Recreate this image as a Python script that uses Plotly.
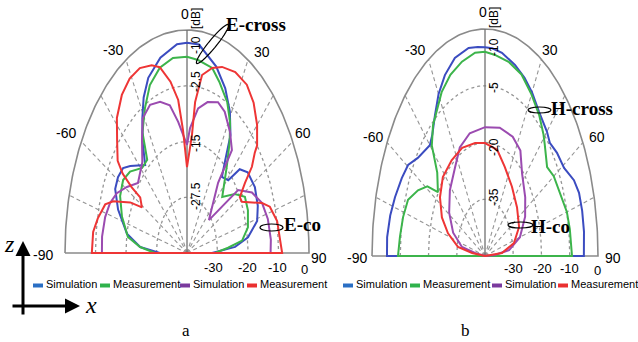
import numpy as np
import plotly.graph_objects as go

W, H = 638, 342
DB_MIN, DB_MAX = -40.0, 0.0
GRID_DB = [-30, -20, -10]
SPOKES = [-75, -60, -45, -30, 30, 45, 60, 75]

angle_labels = ["-90", "-60", "-30", "0", "30", "60", "90"]
radial_labels = ["-30", "-20", "-10", "0"]
a_axis_texts = ["[dB]", "-10", "-2.5", "-15", "-27.5"]
b_axis_texts = ["[dB]", "-10", "-5", "-20", "-35"]
legend_names = ["Simulation", "Measurement", "Simulation", "Measurement"]
legend_colors = ["#2a6fc4", "#2fb24c", "#7a3a9e", "#ea3030"]
curve_colors = ["#3b4cc0", "#3cb44b", "#9b4bb0", "#ee3535"]

# ---- Panel a (E-plane) ----
a_blue_deg = [-90, -86, -80, -71, -64, -59, -54, -50, -41, -36, -31, -27, -22, -14, -5, 0, 6, 16, 23, 29,
              34, 37, 40, 46, 49, 54, 62, 70, 76, 82, 86, 90]
a_blue_db = [-31.1, -24.6, -20.0, -16.1, -13.8, -13.6, -14.1, -15.7, -19.1, -15.2, -11.6, -8.7, -6.1, -3.9,
             -2.4, -2.3, -2.4, -5.2, -7.9, -11.0, -14.5, -19.2, -22.2, -21.2, -17.1, -15.4, -14.8, -15.3,
             -16.3, -19.8, -24.2, -31.8]
a_green_deg = [-90, -86, -81.5, -73, -65, -58, -52, -44, -38, -34, -28, -22, -15, -7.5, 0, 6, 14, 19, 26,
               31, 35, 40, 49, 56, 62, 69, 77, 83, 86, 90]
a_green_db = [-29.5, -24.6, -20.4, -17.7, -15.8, -15.3, -16.3, -18.8, -18.8, -13.9, -10.6, -7.5, -5.6, -4.7,
              -4.8, -5.2, -5.8, -7.5, -9.9, -12.6, -15.6, -19.7, -24.7, -21.1, -18.5, -18.6, -19.5, -21.8,
              -26.5, -30.8]
a_purple_deg = [-90, -84, -76.5, -70.5, -65, -59, -52, -42, -36, -31, -24.5, -18, -12, -7, 0, 2.5, 8, 14,
                20.6, 26, 33, 38.6, 39, 50.6, 56, 63, 70, 77, 85, 90]
a_purple_db = [-12.1, -12.0, -12.4, -13.2, -14.6, -17.0, -19.6, -18.1, -14.9, -11.8, -10.8, -11.5, -12.9,
               -16.3, -20.6, -17.6, -13.8, -12.1, -11.1, -11.8, -14.1, -16.4, -23.8, -30.7, -19.8, -16.1,
               -13.8, -12.8, -12.4, -12.6]
a_red_deg = [-90, -83, -78, -72, -69, -64, -61, -57, -57, -56, -54, -48.5, -43.5, -37, -31, -25, -19, -15,
             -10, -6, -3.4, 0, 4.4, 5.6, 8.8, 14, 19, 26, 33, 39, 45, 50, 51, 54, 56.5, 60, 63, 70, 73, 79,
             85, 90]
a_red_db = [-8.8, -9.0, -10.1, -11.8, -14.1, -19.3, -23.1, -21.7, -18.4, -14.6, -11.9, -9.4, -6.6, -4.5,
            -3.5, -3.4, -4.4, -5.5, -8.8, -12.4, -17.9, -24.6, -18.8, -12.8, -7.7, -5.8, -4.7, -3.9, -4.0,
            -5.3, -7.5, -10.0, -11.4, -13.7, -17.2, -20.0, -19.8, -13.8, -11.6, -9.9, -9.4, -8.8]

# ---- Panel b (H-plane) ----
b_blue_deg = [-90, -84.5, -78, -72, -65, -59.5, -54, -45, -41, -35.5, -30, -24, -17, -9, -4, 0, 4, 9.5,
              17.5, 24, 30, 37, 45, 49, 54.5, 61, 67, 71.5, 77, 83, 90]
b_blue_db = [-5.3, -5.2, -5.7, -6.5, -7.5, -8.4, -10.6, -12.4, -11.6, -9.5, -7.1, -5.1, -3.5, -2.9, -3.1,
             -3.2, -3.3, -3.7, -4.7, -5.6, -6.7, -8.2, -9.0, -9.6, -8.7, -8.0, -5.8, -4.9, -4.7, -4.7, -5.0]
b_green_deg = [-90, -83.6, -76.7, -70, -64, -59, -56, -49, -44, -38.6, -33, -28, -21, -13.4, -5.6, 0, 5.7,
               14, 22, 30, 37.6, 44, 47, 54.5, 60, 67, 75, 81, 90]
b_green_db = [-9.2, -9.7, -10.2, -11.0, -13.6, -16.2, -19.9, -17.6, -12.9, -10.5, -8.9, -7.3, -5.8, -4.8,
              -4.0, -4.0, -4.4, -4.8, -5.5, -7.1, -8.6, -10.2, -11.1, -13.0, -11.9, -11.2, -10.0, -9.6, -9.2]
b_purple_deg = [-90, -81.6, -79, -70, -59, -47, -34, -25, -14, 0, 13, 25, 34, 42, 54, 64, 75, 83, 87, 90]
b_purple_db = [-40, -36.4, -31.7, -28.0, -25.2, -23.0, -21.1, -18.9, -17.7, -17.3, -16.8, -16.8, -17.6,
               -20.4, -22.4, -24.2, -27.2, -31.4, -36.5, -40]
b_red_deg = [-90, -83.5, -80.5, -73, -66, -57, -47, -35, -23, -10, 0, 13, 24, 38, 53, 67, 77.5, 85, 90]
b_red_db = [-40, -35.4, -30.3, -26.3, -23.3, -21.0, -19.6, -19.4, -19.3, -19.8, -20.1, -20.8, -22.8, -24.5,
            -25.8, -26.9, -29.5, -34.0, -40]

PANELS = {
    "a": dict(cx=187, cy=253, rx=122, ry=223, xa="x", ya="y",
              series=[(a_blue_deg, a_blue_db), (a_green_deg, a_green_db),
                      (a_purple_deg, a_purple_db), (a_red_deg, a_red_db)]),
    "b": dict(cx=485, cy=256, rx=113, ry=227, xa="x2", ya="y2",
              series=[(b_blue_deg, b_blue_db), (b_green_deg, b_green_db),
                      (b_purple_deg, b_purple_db), (b_red_deg, b_red_db)]),
}
PAD = 0.04


def proj(deg, db):
    th = np.radians(np.asarray(deg, float))
    rho = np.clip((np.asarray(db, float) - DB_MIN) / (DB_MAX - DB_MIN), 0, 1)
    return rho * np.sin(th), rho * np.cos(th)


def P(px, py):
    return px / W, 1 - py / H


fig = go.Figure()
layout_axes = {}
grid_col = "#959595"
for key, p in PANELS.items():
    xa, ya = p["xa"], p["ya"]
    xn = "xaxis" if xa == "x" else "xaxis2"
    yn = "yaxis" if ya == "y" else "yaxis2"
    layout_axes[xn] = dict(domain=[(p["cx"] - (1 + PAD) * p["rx"]) / W, (p["cx"] + (1 + PAD) * p["rx"]) / W],
                           range=[-(1 + PAD), 1 + PAD], visible=False, fixedrange=True, anchor=ya)
    layout_axes[yn] = dict(domain=[1 - (p["cy"] + PAD * p["ry"]) / H, 1 - (p["cy"] - (1 + PAD) * p["ry"]) / H],
                           range=[-PAD, 1 + PAD], visible=False, fixedrange=True, anchor=xa)
    full = np.arange(-90, 90.5, 1.0)
    # dotted range rings
    for g in GRID_DB:
        x, y = proj(full, np.full_like(full, g))
        fig.add_trace(go.Scatter(x=x, y=y, mode="lines", xaxis=xa, yaxis=ya, hoverinfo="skip",
                                 line=dict(color=grid_col, width=1.3, dash="dot")))
    # spokes
    for s in SPOKES:
        x, y = proj([s, s], [DB_MIN, DB_MAX])
        fig.add_trace(go.Scatter(x=x, y=y, mode="lines", xaxis=xa, yaxis=ya, hoverinfo="skip",
                                 line=dict(color=grid_col, width=1.1, dash="4px,3px")))
    # outer arc + baseline
    x, y = proj(full, np.full_like(full, DB_MAX))
    fig.add_trace(go.Scatter(x=np.concatenate([x, [-1]]), y=np.concatenate([y, [0]]), mode="lines",
                             xaxis=xa, yaxis=ya, hoverinfo="skip", line=dict(color="#8a8a8a", width=1.6)))
    x, y = proj([0, 0], [DB_MIN, DB_MAX])
    fig.add_trace(go.Scatter(x=x, y=y, mode="lines", xaxis=xa, yaxis=ya, hoverinfo="skip",
                             line=dict(color="#707070", width=1.3)))
    # data curves (closed through the centre, as in the source plot)
    for (deg, db), col in zip(p["series"], curve_colors):
        d = [deg[0]] + list(deg) + [deg[-1]]
        v = [DB_MIN] + list(db) + [DB_MIN]
        x, y = proj(d, v)
        fig.add_trace(go.Scatter(x=x, y=y, mode="lines", xaxis=xa, yaxis=ya, hoverinfo="skip",
                                 line=dict(color=col, width=2)))

ann = []
shapes = []
SANS = "Liberation Sans, Arial, sans-serif"
SERIF = "Liberation Serif, Times New Roman, serif"


def text(px, py, s, size, family=SANS, angle=0, **kw):
    x, y = P(px, py)
    ann.append(dict(x=x, y=y, xref="paper", yref="paper", text=s, showarrow=False,
                    font=dict(size=size, family=family, color="black"), textangle=angle,
                    xanchor=kw.get("xanchor", "center"), yanchor="middle"))


angle_pos = {
    "a": [(43, 255), (66, 133), (113, 50), (185, 14), (262, 52), (303, 133), (319, 258)],
    "b": [(357, 258), (373, 137), (415, 50), (483, 12), (550, 50), (597, 137), (613, 258)],
}
radial_pos = {
    "a": [(213, 267), (247, 267), (277, 267), (304, 269)],
    "b": [(513, 268), (542, 268), (569, 268), (597, 270)],
}
vert_pos = {"a": (196, [19, 45, 82, 143, 196]), "b": (494, [18, 47, 88, 147, 197])}
vert_txt = {"a": a_axis_texts, "b": b_axis_texts}
legend_pos = {"a": ([33, 100, 180, 247], 285), "b": ([343, 410, 492, 558], 285)}

for key in ["a", "b"]:
    for s, (px, py) in zip(angle_labels, angle_pos[key]):
        text(px, py, s, 14)
    for s, (px, py) in zip(radial_labels, radial_pos[key]):
        text(px, py, s, 13)
    vx, vys = vert_pos[key]
    for s, vy in zip(vert_txt[key], vys):
        text(vx, vy, s, 12, angle=-90)
    xs, ly = legend_pos[key]
    for name, col, lx in zip(legend_names, legend_colors, xs):
        x0, y0 = P(lx, ly - 1.5)
        x1, y1 = P(lx + 10, ly + 2.5)
        shapes.append(dict(type="rect", xref="paper", yref="paper", x0=x0, x1=x1, y0=y0, y1=y1,
                           fillcolor=col, line=dict(width=0)))
        text(lx + 11, ly - 1, name, 11, xanchor="left")

# callout labels
text(256, 25, "<b>E-cross</b>", 19, family=SERIF)
text(302, 224, "<b>E-co</b>", 19, family=SERIF)
text(582, 108, "<b>H-cross</b>", 19, family=SERIF)
text(550, 226, "<b>H-co</b>", 19, family=SERIF)

# rotated ellipse for E-cross
cxe, cye, ae, be = 212.5, 44, 25, 4
phi = np.arctan2(-38, 31)
tt = np.linspace(0, 2 * np.pi, 40)
pts = [P(cxe + ae * np.cos(t) * np.cos(phi) - be * np.sin(t) * np.sin(phi),
         cye + ae * np.cos(t) * np.sin(phi) + be * np.sin(t) * np.cos(phi)) for t in tt]
path = "M " + " L ".join(f"{x:.5f},{y:.5f}" for x, y in pts) + " Z"
shapes.append(dict(type="path", xref="paper", yref="paper", path=path, line=dict(color="black", width=1.2)))
for (x0p, x1p, y0p, y1p) in [(260, 283, 224, 231), (528, 551, 107, 113), (508, 533, 222, 228)]:
    xa0, ya0 = P(x0p, y1p)
    xa1, ya1 = P(x1p, y0p)
    shapes.append(dict(type="circle", xref="paper", yref="paper", x0=xa0, x1=xa1, y0=ya0, y1=ya1,
                       line=dict(color="black", width=1.2)))

# coordinate arrows
hx, hy = P(23, 241)
ann.append(dict(x=hx, y=hy, xref="paper", yref="paper", ax=0, ay=75, text="", showarrow=True,
                arrowhead=2, arrowsize=1, arrowwidth=3, arrowcolor="black", standoff=0))
hx, hy = P(80, 306)
ann.append(dict(x=hx, y=hy, xref="paper", yref="paper", ax=-69, ay=0, text="", showarrow=True,
                arrowhead=2, arrowsize=1, arrowwidth=3, arrowcolor="black", standoff=0))
text(9, 244, "<i>z</i>", 24, family=SERIF)
text(91, 305, "<i>x</i>", 24, family=SERIF)
text(186, 330, "a", 17, family=SERIF)
text(465, 330, "b", 17, family=SERIF)

fig.update_layout(width=W, height=H, margin=dict(l=0, r=0, t=0, b=0), paper_bgcolor="white",
                  plot_bgcolor="rgba(0,0,0,0)", showlegend=False, annotations=ann, shapes=shapes,
                  **layout_axes)
fig.write_html("out.html", config={"displayModeBar": False},
               post_script="document.body.style.margin='0';document.body.style.padding='0';")
